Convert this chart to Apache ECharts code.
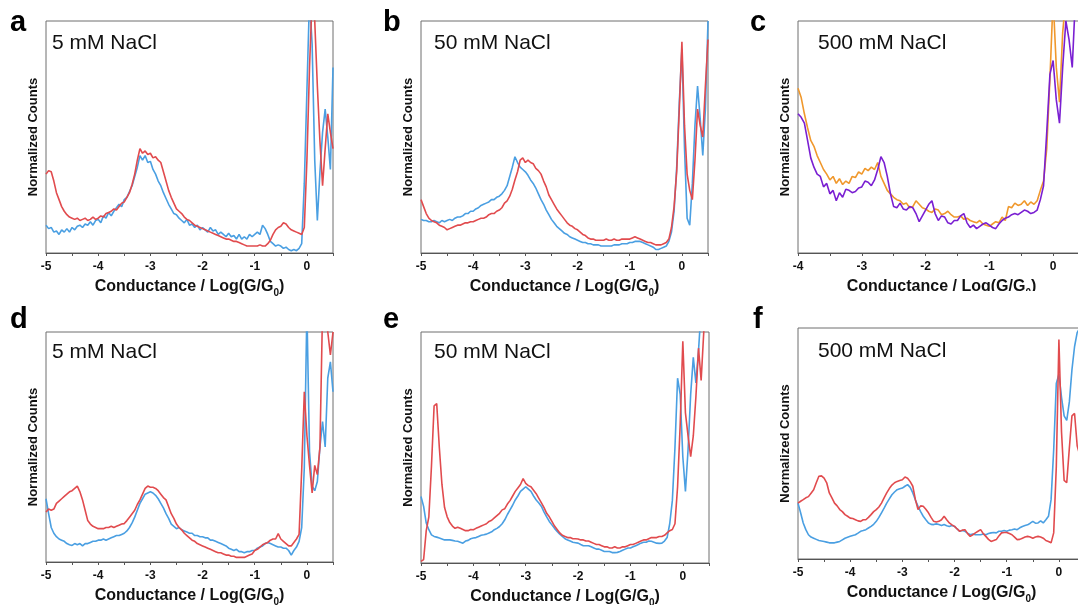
<!DOCTYPE html>
<html>
<head>
<meta charset="utf-8">
<script src="https://cdn.jsdelivr.net/npm/echarts@6/dist/echarts.min.js"></script>
<style>
html,body{margin:0;padding:0;background:#fff;}
#chart{width:1078px;height:605px;}
</style>
</head>
<body>
<div id="chart"></div>
<script>
// Conductance sampling grid (log G/G0), step 0.05
const xGrid = (start, n) => Array.from({length: n}, (_, i) => Math.round((start + i * 0.05) * 100) / 100);
const X_FULL = xGrid(-5, 111);   // -5.00 ... 0.50
const X_C = xGrid(-4, 91);       // -4.00 ... 0.50

const xTicks = [-5, -4, -3, -2, -1, 0];
const panelLetters = ['a', 'b', 'c', 'd', 'e', 'f'];
const panelTitles = ['5 mM NaCl', '50 mM NaCl', '500 mM NaCl', '5 mM NaCl', '50 mM NaCl', '500 mM NaCl'];

// Normalized counts (0 = bottom of frame, 100 = top of frame)
const aBlue = [
  12, 10.5, 11, 9, 9.5, 8, 10, 9, 10.5, 9,
  11, 10, 11.5, 12, 11, 12.5, 12, 13.5, 12, 14,
  14.5, 13, 16, 15, 17.5, 16, 18, 19.5, 21, 20,
  23, 24, 26.5, 29, 33, 37, 42, 40, 42, 39,
  39.5, 36, 34, 31, 29, 26, 23.5, 21, 19, 17,
  16.5, 15, 14, 13, 14.5, 12, 12.5, 11, 12, 10,
  11, 10, 9, 11, 9.5, 10, 8, 9, 8, 7,
  8.5, 7, 7.5, 6, 8, 6, 7, 6, 8, 7,
  8, 9, 8, 12, 10.5, 8, 5, 4, 3, 3.5,
  3, 2, 2.5, 1.5, 1, 1.5, 1, 2, 4, 30,
  70, 110, 90, 40, 14, 35, 52, 62, 50, 36,
  80];
const aRed = [
  34, 35.5, 35, 31, 26, 23, 20, 18, 16.5, 15.5,
  15, 14.5, 15, 14, 14.5, 15, 14, 14.5, 15.5, 14.5,
  15, 16, 15.5, 17, 17.5, 18, 19, 18.5, 20, 21.5,
  22, 24, 26, 29.5, 34, 40, 45, 43, 44, 42.5,
  43, 41, 41.5, 40, 39, 35, 31, 27, 24, 21.5,
  19, 18, 17, 15.5, 14.5, 14, 13, 12, 11.5, 11,
  10.5, 10, 9.5, 9, 8.5, 8, 7.5, 7, 6.5, 6,
  6, 5.5, 5, 5, 4.5, 4, 3.5, 3, 3, 3,
  3, 3, 3.5, 3, 3, 4, 5.5, 8, 10, 11,
  11.5, 13, 12.5, 11, 10, 9.5, 9, 8.5, 8, 11,
  40, 80, 110, 100, 72, 48, 29, 45, 60, 52,
  45];
const bBlue = [
  14.5, 14, 14, 13.5, 13.5, 14, 13.5, 13, 14, 13.5,
  14, 14.5, 14, 15, 15.5, 15.5, 16, 17, 17, 18,
  18, 19, 19.5, 20.5, 21, 21.5, 22, 23, 23, 24,
  24.5, 25.5, 27, 29, 33, 37, 41.5, 39, 37, 36,
  35, 33.5, 31.5, 30, 28, 25.5, 23, 21, 18.5, 16.5,
  14.5, 13, 11.5, 10.5, 9.5, 8.5, 8, 7, 6.5, 6,
  5.5, 5, 4.5, 4.5, 4, 4, 3.5, 3.5, 3.5, 3,
  3, 3, 3, 3, 3.5, 3.5, 3.5, 4, 4, 4,
  4.5, 4.5, 5, 5, 5, 4.5, 4, 3.5, 3, 2.5,
  1.5, 1.5, 2, 2.5, 3, 5, 9, 18, 37, 65,
  88, 45, 15, 12, 30, 55, 72, 58, 42, 62,
  100];
const bRed = [
  23, 20, 17, 15, 14, 13.5, 13, 12, 11.5, 11,
  10, 10.5, 11, 11.5, 12, 12, 12.5, 13, 13, 13.5,
  13.5, 14, 14.5, 15, 15, 15.5, 16.5, 17, 17, 18,
  18.5, 19.5, 21.5, 22.5, 24.5, 27.5, 31.5, 35, 40, 41,
  39, 40, 39, 38.5, 36.5, 35.5, 34, 31, 28.5, 25,
  23, 21, 19, 17.5, 16, 14.5, 13, 12, 11.5, 10.5,
  10, 9, 8, 7.5, 6.5, 6, 6, 5.5, 5.5, 5.5,
  5.5, 6, 5.5, 5.5, 6, 5.5, 5.5, 6, 6, 6,
  6, 6.5, 7, 6.5, 6, 5.5, 5, 4.5, 4.5, 4,
  3.5, 3.5, 3.5, 4, 4.5, 6, 11, 20, 35, 62,
  91, 55, 34, 27, 23, 40, 62, 55, 50, 72,
  92];
const cOrange = [
  71, 67, 60, 54, 48.5, 46, 42, 39, 36, 34,
  31.5, 33, 30, 32, 29.5, 31, 30, 33, 32.5, 35,
  34, 36.5, 35.5, 37, 36, 39, 33, 30, 27, 25.5,
  24, 23, 22.5, 21, 21.5, 19.5, 20, 22.5, 21, 19.5,
  19, 18, 17.5, 19, 18.5, 16.5, 17, 18, 16.5, 15.5,
  15.5, 16, 14.5, 15, 14, 13.5, 13, 14, 12.5, 12,
  11.5, 12.5, 13.5, 13, 15.5, 14, 20, 19.5, 21.5, 20.5,
  21, 22.5, 20.5, 22, 21, 22.5, 27, 31, 45, 75,
  110, 80, 65, 95, 110, 110, 110, 110, 110, 110,
  110];
const cPurple = [
  60, 58.5, 56, 48.5, 41, 37, 34, 33, 28.5, 30,
  25.5, 27, 22.5, 26, 24, 27.5, 27, 26, 26.5, 28,
  28.5, 31, 30.5, 29, 31.5, 36, 41.5, 39, 33, 25.5,
  20, 19.5, 21.5, 19, 18.5, 20, 19.5, 17, 13.5, 16,
  18.5, 21, 22.5, 17, 14, 16, 15.5, 13, 12.5, 14,
  14, 16, 17, 13, 11, 12, 10.5, 11.5, 12.5, 13,
  12, 11, 10.5, 12.5, 14, 15, 15.5, 16.5, 17, 16.5,
  17.5, 18.5, 18, 17, 17.5, 18.5, 23, 29, 52, 77,
  83, 66, 56, 80, 100, 92, 80, 110, 110, 110,
  110];
const dBlue = [
  27.5, 21, 15, 12.5, 11, 10, 9.5, 9, 8, 7.5,
  7.2, 8, 7.5, 8, 7, 8, 8, 8.5, 9, 9,
  9.5, 9.5, 10, 9.5, 10, 10.5, 11, 11.5, 11.5, 12,
  12.5, 13.5, 15, 17, 19.5, 22.5, 25.5, 27.5, 29.5, 30,
  30.5, 30, 29, 27.5, 25.5, 23.5, 21, 19, 16.5, 15.5,
  14.5, 15, 14, 13.5, 13, 12.5, 12.5, 11.5, 11.5, 11,
  11, 10.5, 10.5, 9.5, 9.5, 9, 8.5, 8, 7.5, 7,
  6, 5.5, 5, 5.5, 4.5, 4.5, 4, 4.5, 4.5, 5,
  5, 6, 6.5, 7, 8, 8.5, 8, 7.5, 7, 6.5,
  6.5, 6, 6, 5, 3, 5, 6.5, 9, 15, 41,
  110, 48, 33, 31, 35, 50, 61, 50, 80, 87,
  74];
const dRed = [
  21.7, 23, 22.5, 23, 25.5, 26.5, 27.5, 28.5, 29.5, 30.5,
  31, 32, 33, 30.5, 27, 22.5, 18, 16.5, 15.5, 15,
  14.5, 14.5, 14.5, 15, 15, 15.5, 15, 15.5, 16, 16.5,
  16.7, 18, 19.5, 21, 22.5, 25, 27, 29.5, 32, 33,
  32.5, 32.5, 32, 31, 29.5, 28, 27, 24, 21, 19,
  16.5, 15, 14, 12.5, 11.5, 10.5, 9.5, 9, 8, 7.5,
  7, 6.5, 6, 5.5, 5, 4.5, 4, 4, 3.5, 3,
  3, 2.5, 2.5, 2, 2, 2, 2, 2.5, 3, 3.5,
  5, 5.5, 6.5, 7.5, 8, 8.5, 9.5, 10, 10, 12.3,
  10, 9, 8, 7, 7, 8.5, 10, 12, 40, 74,
  55, 42, 30, 42, 38, 50, 110, 110, 100, 90,
  100];
const eBlue = [
  28.8, 24.5, 17.3, 14.4, 12.2, 11.5, 11.2, 10.8, 10.4, 10,
  10, 10, 9.8, 9.5, 9.4, 9, 8.6, 9.5, 9.8, 10.5,
  10.8, 11, 11.5, 12, 12.2, 12.5, 13, 13.5, 14.4, 15,
  15.8, 17, 18.7, 21, 23, 25, 27.3, 29, 31, 32,
  33, 32, 31, 29, 27.3, 26, 24.5, 22, 20, 18,
  16.5, 15, 13.7, 12.5, 11.5, 10.5, 10, 9.5, 9, 8.8,
  8.6, 8, 7.5, 7.5, 7.5, 7, 6.5, 6, 6, 5.5,
  5, 5, 5, 4.5, 4.5, 4.6, 5, 5.5, 6, 6.5,
  6.5, 7, 7.5, 8, 8.6, 9, 9, 9.5, 9.4, 9,
  8.6, 8.5, 8.6, 9.5, 11, 17, 27, 50, 80, 73,
  46, 31, 49, 73, 89, 78, 92, 110, 110, 110,
  110];
const eRed = [
  0.7, 1.5, 14, 20, 42, 68, 69, 50, 34, 24,
  20, 17.5, 16, 15, 15.5, 15, 14.5, 14, 14, 14.5,
  14.4, 15, 15.5, 16, 16.5, 17, 18, 18.5, 19.5, 20.5,
  21.5, 23, 23.5, 25.5, 27, 29, 31, 32.5, 34, 36.5,
  34.5, 33.5, 33, 31.5, 30, 28, 26, 24, 21.5, 20,
  18, 16, 14.5, 13, 12, 11.5, 11, 11, 10.5, 10.5,
  10.4, 10, 10, 9.5, 9.5, 9, 8.5, 8, 8, 7.5,
  7, 7, 6.5, 6.5, 7, 6.5, 6.5, 7, 7, 7.5,
  8, 8, 8.5, 9, 9.5, 10, 10, 10.5, 11, 11,
  11, 11.5, 11.5, 12, 13, 14, 14.5, 17, 33, 60,
  96, 65, 55, 46, 55, 72, 93, 79, 100, 110,
  110];
const fBlue = [
  24.2, 20, 15.6, 12.7, 10.5, 9.5, 9, 8.5, 8, 7.8,
  7.6, 7.3, 7, 7, 7, 7.3, 7.6, 8.3, 9, 9.4,
  9.8, 10.2, 10.5, 11.2, 12, 12.3, 12.7, 13.4, 14.1, 15,
  16.3, 18, 20, 22, 24.2, 26, 27.8, 29, 30, 30.4,
  30.7, 31.5, 32.2, 31, 28.6, 25.5, 22.8, 20.5, 18.5, 17,
  15.6, 15, 14.9, 15.2, 14.9, 14.5, 14.9, 14.4, 14.1, 14.5,
  14.1, 13, 12, 12.3, 12, 11.2, 10.5, 10.8, 10.5, 10.5,
  10.5, 10.8, 10.5, 11, 11.3, 11.5, 11.3, 12, 12, 12.3,
  12, 12.5, 12.7, 13, 12.7, 13.5, 14.1, 14.5, 14.8, 15.5,
  16.3, 15.5, 15.6, 16.5, 15.6, 17, 18.5, 25.7, 47.3, 76,
  80, 70, 62, 60, 68, 82, 92, 98, 100, 100,
  100];
const fRed = [
  24.2, 25, 25.7, 26.5, 27, 28.5, 30, 33, 35.8, 36,
  35, 33, 28.6, 26.5, 24.2, 23, 21.4, 20.5, 19.2, 18.5,
  17.7, 17.5, 17, 16.5, 16.3, 17, 17, 18, 19.2, 20.5,
  21.4, 22.5, 24.2, 26.5, 28.6, 30.5, 32, 33, 33.6, 34,
  34.3, 35.5, 35, 33.5, 31.5, 25.7, 21.4, 23, 22.8, 21.5,
  20, 18, 16.3, 16, 16.3, 17, 18.5, 17, 15.6, 14.8,
  14.1, 13, 12, 12.5, 12.7, 11, 9.8, 10.5, 11.3, 12,
  12.7, 11, 9.8, 8.5, 7.6, 8, 8.4, 10, 11.3, 11.5,
  11.5, 11, 10.5, 9.5, 8.4, 8.5, 9, 9.5, 9.8, 9.5,
  9, 9.5, 9.8, 9.5, 9, 8, 7.6, 7, 11.3, 40,
  95, 55, 34, 33, 48, 62, 63, 49, 45, 45,
  45];

const RED = '#e14b4e', BLUE = '#4a9fe2', ORANGE = '#f0982c', PURPLE = '#7a1fd2';

const panels = [
  {x: X_FULL, min: -5, series: [[aBlue, BLUE], [aRed, RED]], box: [46, 21, 287, 232], letter: [10, 25], label: [52, 45]},
  {x: X_FULL, min: -5, series: [[bBlue, BLUE], [bRed, RED]], box: [421, 21, 287, 232], letter: [383, 25], label: [434, 45]},
  {x: X_C,    min: -4, series: [[cOrange, ORANGE], [cPurple, PURPLE]], box: [798, 21, 287, 232], letter: [750, 25], label: [818, 45]},
  {x: X_FULL, min: -5, series: [[dBlue, BLUE], [dRed, RED]], box: [46, 332, 287, 230], letter: [10, 322], label: [52, 354]},
  {x: X_FULL, min: -5, series: [[eBlue, BLUE], [eRed, RED]], box: [421, 332, 288, 231], letter: [383, 322], label: [434, 354]},
  {x: X_FULL, min: -5, series: [[fBlue, BLUE], [fRed, RED]], box: [798, 328, 287, 231], letter: [753, 322], label: [818, 353]}
];

const FONT = '"Liberation Sans", Arial, Helvetica, sans-serif';
const grids = [], xAxes = [], yAxes = [], series = [], graphics = [];

panels.forEach((p, i) => {
  grids.push({
    left: p.box[0], top: p.box[1], width: p.box[2], height: p.box[3],
    show: true, borderColor: '#6e6e6e', borderWidth: 1, backgroundColor: 'transparent',
    containLabel: false, outerBoundsMode: 'none'
  });
  xAxes.push({
    gridIndex: i, type: 'value', min: p.min, max: 0.5, interval: 0.5,
    axisLine: {show: true, onZero: false, lineStyle: {color: '#555', width: 1}},
    axisTick: {show: true, length: 3, lineStyle: {color: '#555'}},
    axisLabel: {
      formatter: v => (xTicks.indexOf(Math.round(v * 100) / 100) >= 0 ? String(Math.round(v)) : ''),
      color: '#111', fontWeight: 'bold', fontSize: 12, fontFamily: FONT, margin: 8
    },
    splitLine: {show: false},
    name: '{t|Conductance / Log(G/G}{s|0}{t|)}',
    nameLocation: 'middle', nameGap: 24,
    nameTextStyle: {
      rich: {
        t: {fontSize: 16, fontWeight: 'bold', color: '#111', fontFamily: FONT, lineHeight: 18, verticalAlign: 'bottom'},
        s: {fontSize: 10, fontWeight: 'bold', color: '#111', fontFamily: FONT, lineHeight: 12, verticalAlign: 'bottom', padding: [0, 0, -3, 0]}
      }
    }
  });
  yAxes.push({
    gridIndex: i, type: 'value', min: 0, max: 100,
    axisLine: {show: false}, axisTick: {show: false}, axisLabel: {show: false}, splitLine: {show: false},
    name: 'Normalized Counts', nameLocation: 'middle', nameGap: 6,
    nameTextStyle: {fontSize: 13, fontWeight: 'bold', color: '#111', fontFamily: FONT}
  });
  p.series.forEach(([vals, color]) => {
    series.push({
      type: 'line', xAxisIndex: i, yAxisIndex: i, showSymbol: false, symbol: 'none',
      clip: true, animation: false,
      lineStyle: {color: color, width: 1.6},
      data: p.x.map((xv, k) => [xv, vals[k]])
    });
  });
  graphics.push({
    type: 'text', left: p.letter[0], top: p.letter[1] - 17,
    style: {text: panelLetters[i], font: 'bold 29px ' + FONT, fill: '#000'}
  });
  graphics.push({
    type: 'text', left: p.label[0], top: p.label[1] - 12,
    style: {text: panelTitles[i], font: '21px ' + FONT, fill: '#111'}
  });
});

// the x-axis title of panel c is cut off at its bottom in the original figure
graphics.push({type: 'rect', shape: {x: 790, y: 291, width: 300, height: 12}, style: {fill: '#fff'}, z: 100});

const chart = echarts.init(document.getElementById('chart'), null, {renderer: 'canvas'});
chart.setOption({
  animation: false,
  backgroundColor: '#fff',
  grid: grids, xAxis: xAxes, yAxis: yAxes, series: series,
  graphic: graphics
});
</script>
</body>
</html>
